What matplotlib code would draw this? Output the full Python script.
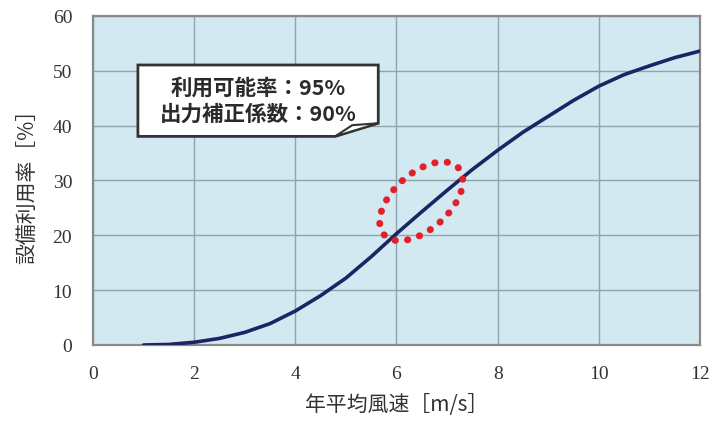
import matplotlib
matplotlib.use("Agg")
import matplotlib.pyplot as plt
from matplotlib.patches import Ellipse, Polygon
from matplotlib.transforms import ScaledTranslation

# 年平均風速 [m/s] と 設備利用率 [%]
wind_speed = [1, 1.5, 2, 2.5, 3, 3.5, 4, 4.5, 5, 5.5, 6, 6.5,
              7, 7.5, 8, 8.5, 9, 9.5, 10, 10.5, 11, 11.5, 12]
capacity_factor = [0.0, 0.1, 0.5, 1.2, 2.3, 3.9, 6.2, 9.0, 12.2, 16.1, 20.3, 24.3,
                   28.2, 32.0, 35.5, 38.8, 41.7, 44.6, 47.2, 49.3, 50.9, 52.4, 53.6]

x_ticks = [0, 2, 4, 6, 8, 10, 12]
y_ticks = [0, 10, 20, 30, 40, 50, 60]

note_lines = ["利用可能率：95%", "出力補正係数：90%"]
highlight_center = (6.49, 26.2)

jp_font = ["Noto Sans CJK JP", "DejaVu Sans"]
num_font = ["Liberation Serif", "DejaVu Serif"]

fig = plt.figure(figsize=(7.12, 4.35), dpi=100)
ax = fig.add_axes([0.1306, 0.2046, 0.8525, 0.7564])
ax.set_facecolor("#d3e9f1")

ax.plot(wind_speed, capacity_factor, color="#1c2464", lw=2.6, zorder=3,
        solid_capstyle="round", solid_joinstyle="round")

ax.set_xlim(0, 12)
ax.set_ylim(0, 60)
ax.set_xticks(x_ticks)
ax.set_yticks(y_ticks)
ax.grid(True, color="#8fa5ad", lw=1.0)
ax.set_axisbelow(True)
ax.tick_params(length=0, labelsize=14, labelcolor="#333333")
ax.tick_params(axis="x", pad=14.5)
ax.tick_params(axis="y", pad=15)
for lab in ax.get_xticklabels() + ax.get_yticklabels():
    lab.set_family(num_font)

for side in ax.spines.values():
    side.set_color("#8a8a8a")
    side.set_linewidth(1.6)

ax.set_xlabel("年平均風速［m/s］", family=jp_font, fontsize=15,
              color="#333333", labelpad=8)
ax.set_ylabel("設備利用率［%］", family=jp_font, fontsize=15,
              color="#333333", labelpad=10)

# callout box with a curled corner
box = Polygon([(0.074, 0.851), (0.470, 0.851), (0.470, 0.674),
               (0.399, 0.634), (0.074, 0.634)], closed=True,
              transform=ax.transAxes, facecolor="white", edgecolor="#333333",
              lw=2.0, zorder=4)
ax.add_patch(box)
flap = Polygon([(0.399, 0.634), (0.427, 0.668), (0.470, 0.674)], closed=True,
               transform=ax.transAxes, facecolor="white", edgecolor="#333333",
               lw=1.5, zorder=5)
ax.add_patch(flap)
ax.text(0.272, 0.745, "\n".join(note_lines), transform=ax.transAxes,
        ha="center", va="center", family=jp_font, fontsize=15.5,
        fontweight="bold", color="#2a2a2a", linespacing=1.3, zorder=6)

# red dotted ring around the 6-7 m/s range
ring = Ellipse((0, 0), width=1.0, height=0.56, angle=42,
               transform=fig.dpi_scale_trans
               + ScaledTranslation(*highlight_center, ax.transData),
               fill=False, edgecolor="#e0202a", lw=5,
               linestyle=(0, (0.05, 1.75)), capstyle="round", zorder=5)
ax.add_patch(ring)

fig.savefig("out.png", dpi=100)
